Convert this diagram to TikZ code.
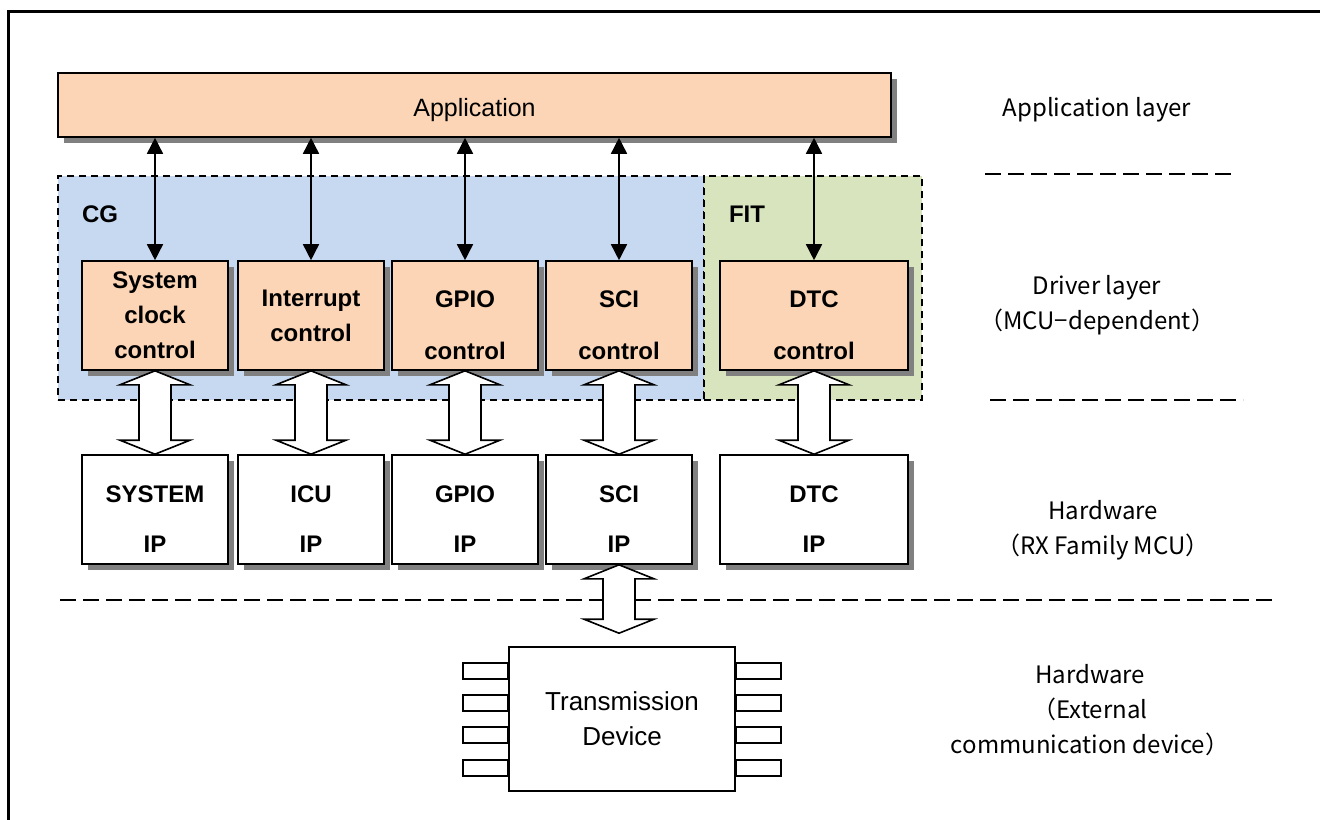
\documentclass[tikz,border=0pt]{standalone}
\usepackage{fontspec}
\setmainfont{Liberation Sans}
\newfontfamily\jpfont{Noto Sans CJK JP}
\usetikzlibrary{arrows.meta, calc, shadows}

\definecolor{peach}{HTML}{FBD5B5}
\definecolor{cgblue}{HTML}{C6D9F1}
\definecolor{fitgreen}{HTML}{D7E4BD}
\definecolor{shade}{HTML}{808080}

% pushes a two-line label a little below the box centre
\newcommand{\padtop}{\rule{0pt}{18pt}}
% wide double arrow from #1.south down to #2.north, #3 = gap above #2
\newcommand{\fatarrow}[3]{%
  \draw[line width=0.8pt, fill=white] let \p1=(#1.south), \p2=(#2.north) in
    (\x1,\y1) -- (\x1+17.5pt,\y1-7pt) -- (\x1+8pt,\y1-7pt)
    -- (\x1+8pt,\y2+#3+7pt) -- (\x1+17.5pt,\y2+#3+7pt) -- (\x1,\y2+#3)
    -- (\x1-17.5pt,\y2+#3+7pt) -- (\x1-8pt,\y2+#3+7pt)
    -- (\x1-8pt,\y1-7pt) -- (\x1-17.5pt,\y1-7pt) -- cycle;}

\tikzset{
  shadowed/.style={drop shadow={shadow xshift=3pt, shadow yshift=-3pt, fill=shade, opacity=1}},
  appbox/.style={draw, line width=0.8pt, fill=peach, shadowed, minimum width=416.5pt,
    minimum height=32pt, font=\fontsize{12.5}{17.5}\selectfont},
  drvbox/.style={draw, line width=0.8pt, fill=peach, shadowed, minimum width=73pt,
    minimum height=54.5pt, align=center, inner sep=0pt,
    font=\bfseries\fontsize{12}{17.5}\selectfont},
  hwbox/.style={drvbox, fill=white},
  region/.style={draw, dash pattern=on 3.5pt off 2.5pt, line width=0.8pt,
    minimum height=112pt},
  layer/.style={font=\jpfont\fontsize{12}{17.5}\selectfont, align=center},
  link/.style={{Triangle[length=8pt,width=8pt]}-{Triangle[length=8pt,width=8pt]}, line width=0.8pt},
  gridsep/.style={dash pattern=on 8pt off 3.5pt, line width=0.8pt}
}

\begin{document}
\begin{tikzpicture}[x=0.5pt, y=-0.5pt]
	\useasboundingbox (0,0) rectangle (1320,819);
	\clip (0,0) rectangle (1320,819);
	\draw[line width=1.5pt] (1330,11) -- (8,11) -- (8,830);
	% driver layer groups
	\node[region, fill=cgblue, minimum width=323pt] (cg) at (381,288) {};
	\node[region, fill=fitgreen, minimum width=109pt] (fit) at (813,288) {};
	\node[anchor=west, font=\bfseries\fontsize{12}{14}\selectfont] (cglbl) at (75,214) {CG};
	\node[anchor=west, font=\bfseries\fontsize{12}{14}\selectfont] (fitlbl) at (722,214) {FIT};
	% application
	\node[appbox] (app) at (474.5,105) {\rule{0pt}{14pt}Application};
	% drivers
	\node[drvbox] (sysclk) at (155,315.5) {System\\clock\\control};
	\node[drvbox] (intc) at (311,315.5) {Interrupt\\control};
	\node[drvbox] (gpioc) at (465,315.5) {\padtop GPIO\\[8.5pt]control};
	\node[drvbox] (scic) at (619,315.5) {\padtop SCI\\[8.5pt]control};
	\node[drvbox, minimum width=94pt] (dtcc) at (814,315.5) {\padtop DTC\\[8.5pt]control};
	% hardware IP
	\node[hwbox] (sysip) at (155,509.5) {\padtop SYSTEM\\[7.5pt]IP};
	\node[hwbox] (icuip) at (311,509.5) {\padtop ICU\\[7.5pt]IP};
	\node[hwbox] (gpioip) at (465,509.5) {\padtop GPIO\\[7.5pt]IP};
	\node[hwbox] (sciip) at (619,509.5) {\padtop SCI\\[7.5pt]IP};
	\node[hwbox, minimum width=94pt] (dtcip) at (814,509.5) {\padtop DTC\\[7.5pt]IP};
	% external device
	\node[draw, line width=0.8pt, fill=white, minimum width=113pt, minimum height=72pt,
	  align=center, font=\fontsize{13}{17.5}\selectfont] (dev) at (622,719) {Transmission\\Device};
	\foreach \dy in {-24,-8,8,24.5} {
		\draw[line width=0.8pt] ([yshift=-\dy pt]dev.west) ++(0,4pt) rectangle ++(-22.5pt,-8pt);
		\draw[line width=0.8pt] ([yshift=-\dy pt]dev.east) ++(0,4pt) rectangle ++(22.5pt,-8pt);
	}
	% app <-> drivers
	\foreach \d in {sysclk, intc, gpioc, scic, dtcc}
		\draw[link] (\d.north) -- (\d.north |- app.south);
	% drivers <-> IP
	\fatarrow{sysclk}{sysip}{0pt}
	\fatarrow{intc}{icuip}{0pt}
	\fatarrow{gpioc}{gpioip}{0pt}
	\fatarrow{scic}{sciip}{0pt}
	\fatarrow{dtcc}{dtcip}{0pt}
	% layer borders
	\draw[gridsep] (60,600) -- (1275,600);
	\draw[gridsep] (985,174) -- (1237,174);
	\draw[gridsep] (990,400) -- (1243,400);
	\fatarrow{sciip}{dev}{6.5pt}
	% layer names
	\node[layer] (lapp) at (1097,110) {Application layer};
	\node[layer] (ldrv) at (1097,305.5) {Driver layer\\（MCU−dependent）};
	\node[layer] (lhw) at (1103,530) {Hardware\\（RX Family MCU）};
	\node[layer] (lext) at (1090,710) {Hardware\\（External\\communication device）};
\end{tikzpicture}
\end{document}
